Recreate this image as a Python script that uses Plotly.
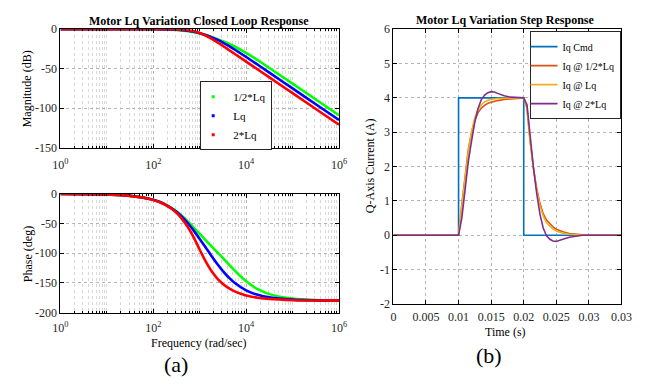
import plotly.graph_objects as go

# ---------------- Bode data ----------------
freq = [1, 3.162, 10, 31.62, 100, 177.8, 316.2, 562.3, 749.9, 1000, 1334, 1778, 2371,
        3162, 4217, 5623, 10000, 17783, 31623, 100000, 316228, 1000000]
mag_half = [0, 0, 0, -0.01, -0.10, -0.32, -0.95, -2.50, -3.79, -5.45, -7.46, -9.77, -12.35,
            -15.21, -18.39, -21.94, -30.12, -39.35, -49.08, -68.96, -88.94, -108.94]
mag_lq = [0, 0, 0, -0.01, -0.08, -0.25, -0.76, -2.10, -3.33, -5.03, -7.26, -10.02, -13.31,
          -17.08, -21.25, -25.73, -35.22, -45.05, -54.99, -74.97, -94.96, -114.96]
mag_2lq = [0, 0, 0, 0, -0.03, -0.11, -0.37, -1.35, -2.60, -4.78, -8.00, -12.02, -16.52,
           -21.27, -26.14, -31.07, -41.01, -50.99, -60.98, -80.98, -100.98, -120.98]
phase_half = [-0.10, -0.31, -0.99, -3.13, -9.84, -17.24, -29.37, -46.86, -56.99, -67.40, -77.72,
              -87.86, -97.97, -108.21, -118.61, -128.90, -147.35, -160.63, -168.91, -176.46,
              -178.88, -179.65]
phase_lq = [-0.10, -0.31, -0.99, -3.13, -9.87, -17.39, -30.09, -49.77, -62.16, -75.73, -89.90,
            -104.07, -117.65, -130.06, -140.84, -149.79, -162.54, -170.09, -174.41, -178.23,
            -179.44, -179.82]
phase_2lq = [-0.10, -0.31, -0.99, -3.13, -9.92, -17.69, -31.63, -56.42, -74.07, -93.97, -113.25,
             -129.57, -142.25, -151.80, -158.90, -164.22, -171.14, -175.02, -177.20, -179.11,
             -179.72, -179.91]
bode_names = ["1/2*Lq", "Lq", "2*Lq"]
bode_colors = ["#00ff00", "#0000ff", "#ff0000"]
mag_ticks = [-150, -100, -50, 0]
mag_ticktext = ["-150", "-100", "-50", "0"]
phase_ticks = [-200, -150, -100, -50, 0]
phase_ticktext = ["-200", "-150", "-100", "-50", "0"]
freq_ticks = [1, 100, 10000, 1000000]
freq_ticktext = ["10<sup>0</sup>", "10<sup>2</sup>", "10<sup>4</sup>", "10<sup>6</sup>"]

# ---------------- Step data ----------------
t_cmd = [0, 0.01, 0.01, 0.02, 0.02, 0.035]
iq_cmd = [0, 0, 4, 4, 0, 0]
t = [0, 0.01, 0.0105, 0.011, 0.0115, 0.012, 0.0125, 0.013, 0.0135, 0.014, 0.0145, 0.015,
     0.0155, 0.016, 0.017, 0.018, 0.019, 0.02, 0.0205, 0.021, 0.0215, 0.022, 0.0225, 0.023,
     0.0235, 0.024, 0.0245, 0.025, 0.0255, 0.026, 0.027, 0.028, 0.029, 0.03, 0.035]
iq_half = [0, 0, 0.9, 1.75, 2.5, 3.0, 3.35, 3.57, 3.7, 3.78, 3.84, 3.87, 3.9, 3.92, 3.95, 3.97,
           3.99, 4.0, 3.7, 2.7, 1.95, 1.35, 0.92, 0.62, 0.44, 0.33, 0.24, 0.17, 0.13, 0.1, 0.05,
           0.02, 0.01, 0, 0]
iq_lq = [0, 0, 0.85, 1.7, 2.45, 3.02, 3.42, 3.67, 3.8, 3.88, 3.93, 3.95, 3.97, 3.98, 3.99, 4.0,
         4.0, 4.0, 3.72, 2.7, 1.93, 1.3, 0.85, 0.55, 0.36, 0.26, 0.18, 0.12, 0.08, 0.06, 0.03,
         0.01, 0, 0, 0]
iq_2lq = [0, 0, 0.5, 1.35, 2.15, 2.75, 3.3, 3.7, 3.95, 4.08, 4.15, 4.18, 4.17, 4.13, 4.06, 4.02,
          4.0, 4.0, 3.8, 2.85, 1.95, 1.2, 0.6, 0.2, -0.02, -0.12, -0.17, -0.18, -0.16, -0.12,
          -0.06, -0.02, 0, 0, 0]
step_names = ["Iq Cmd", "Iq @ 1/2*Lq", "Iq @ Lq", "Iq @ 2*Lq"]
step_colors = ["#0072BD", "#D95319", "#EDB120", "#7E2F8E"]
time_ticks = [0, 0.005, 0.01, 0.015, 0.02, 0.025, 0.03, 0.035]
time_ticktext = ["0", "0.005", "0.01", "0.015", "0.02", "0.025", "0.03", "0.03"]
cur_ticks = [-2, -1, 0, 1, 2, 3, 4, 5, 6]
cur_ticktext = ["-2", "-1", "0", "1", "2", "3", "4", "5", "6"]

W, H = 649, 388
FONT = "Liberation Serif"
TICKC = "#262626"

fig = go.Figure()

mags = [mag_half, mag_lq, mag_2lq]
phases = [phase_half, phase_lq, phase_2lq]
for i in range(3):
    fig.add_trace(go.Scatter(x=freq, y=mags[i], mode="lines",
                             line=dict(color=bode_colors[i], width=2.6, shape="spline"),
                             showlegend=False, xaxis="x", yaxis="y"))
for i in range(3):
    fig.add_trace(go.Scatter(x=freq, y=phases[i], mode="lines",
                             line=dict(color=bode_colors[i], width=2.6, shape="spline"),
                             showlegend=False, xaxis="x2", yaxis="y2"))
for i in range(3):
    fig.add_trace(go.Scatter(x=[None], y=[None], mode="markers", name=bode_names[i],
                             marker=dict(symbol="square", size=3, color=bode_colors[i]),
                             legend="legend", xaxis="x", yaxis="y"))

fig.add_trace(go.Scatter(x=t_cmd, y=iq_cmd, mode="lines", name=step_names[0],
                         line=dict(color=step_colors[0], width=1.6), legend="legend2",
                         xaxis="x3", yaxis="y3"))
for name, col, vals in zip(step_names[1:], step_colors[1:], [iq_half, iq_lq, iq_2lq]):
    fig.add_trace(go.Scatter(x=t, y=vals, mode="lines", name=name,
                             line=dict(color=col, width=1.6), legend="legend2",
                             xaxis="x3", yaxis="y3"))


def px_x(a, b):
    return [a / W, b / W]


def px_y(top, bot):
    return [1 - bot / H, 1 - top / H]


minor_vals = []
for d in range(6):
    for m in range(2, 11):
        minor_vals.append(m * 10 ** d)


def axis(**kw):
    d = dict(showline=True, linecolor="black", linewidth=1, mirror="allticks", ticks="inside",
             ticklen=4, tickcolor="black", showgrid=True, gridcolor="#b4b4b4", griddash="dot",
             gridwidth=1, zeroline=False,
             tickfont=dict(family=FONT, size=12, color=TICKC))
    d.update(kw)
    return d


def logx(**kw):
    return axis(type="log", range=[0, 6], tickvals=freq_ticks, ticktext=freq_ticktext,
                minor=dict(tickvals=minor_vals, showgrid=True, gridcolor="#d8d8d8",
                           griddash="dot", ticks="inside", ticklen=2, tickcolor="black"),
                **kw)


fig.update_layout(
    width=W, height=H, margin=dict(l=0, r=0, t=0, b=0),
    paper_bgcolor="white", plot_bgcolor="white",
    font=dict(family=FONT, size=12, color=TICKC),
    xaxis=logx(domain=px_x(54, 341), anchor="y", ticklabelstandoff=6),
    yaxis=axis(domain=px_y(23, 146), anchor="x", range=[-150, 0],
               tickvals=mag_ticks, ticktext=mag_ticktext),
    xaxis2=logx(domain=px_x(54, 341), anchor="y2", ticklabelstandoff=4),
    yaxis2=axis(domain=px_y(194, 317), anchor="x2", range=[-200, 0],
                tickvals=phase_ticks, ticktext=phase_ticktext),
    xaxis3=axis(domain=px_x(397, 632), anchor="y3", range=[0, 0.035], tickvals=time_ticks,
                ticktext=time_ticktext, ticklabelstandoff=2),
    yaxis3=axis(domain=px_y(23, 308), anchor="x3", range=[-2, 6],
                tickvals=cur_ticks, ticktext=cur_ticktext),
    legend=dict(x=198 / W, y=1 - 77 / H, xanchor="left", yanchor="top", bgcolor="white",
                bordercolor="#262626", borderwidth=1, indentation=-8,
                font=dict(family=FONT, size=11, color="black"),
                itemwidth=30, tracegroupgap=0),
    legend2=dict(x=631 / W, y=1 - 25 / H, xanchor="right", yanchor="top", bgcolor="white",
                 bordercolor="#262626", borderwidth=1, indentation=-8,
                 font=dict(family=FONT, size=10, color="black"),
                 itemwidth=30, tracegroupgap=0),
)


def ann(text, x, y, size=12, bold=False, angle=0):
    fig.add_annotation(text=f"<b>{text}</b>" if bold else text, x=x / W, y=1 - y / H,
                       xref="paper", yref="paper", showarrow=False, textangle=angle,
                       font=dict(family=FONT, size=size, color="black"),
                       xanchor="center", yanchor="middle")


ann("Motor Lq Variation Closed Loop Response", 197, 15, 12, True)
ann("Motor Lq Variation Step Response", 512, 13, 12, True)
ann("Magnitude (dB)", 20, 85, 12, angle=-90)
ann("Phase (deg)", 20, 256, 12, angle=-90)
ann("Frequency (rad/sec)", 197, 349, 12)
ann("Q-Axis Current (A)", 373, 165, 12, angle=-90)
ann("Time (s)", 513, 337, 12)
ann("(a)", 173, 371, 22)
ann("(b)", 496, 362, 22)

fig.write_html("out.html")
